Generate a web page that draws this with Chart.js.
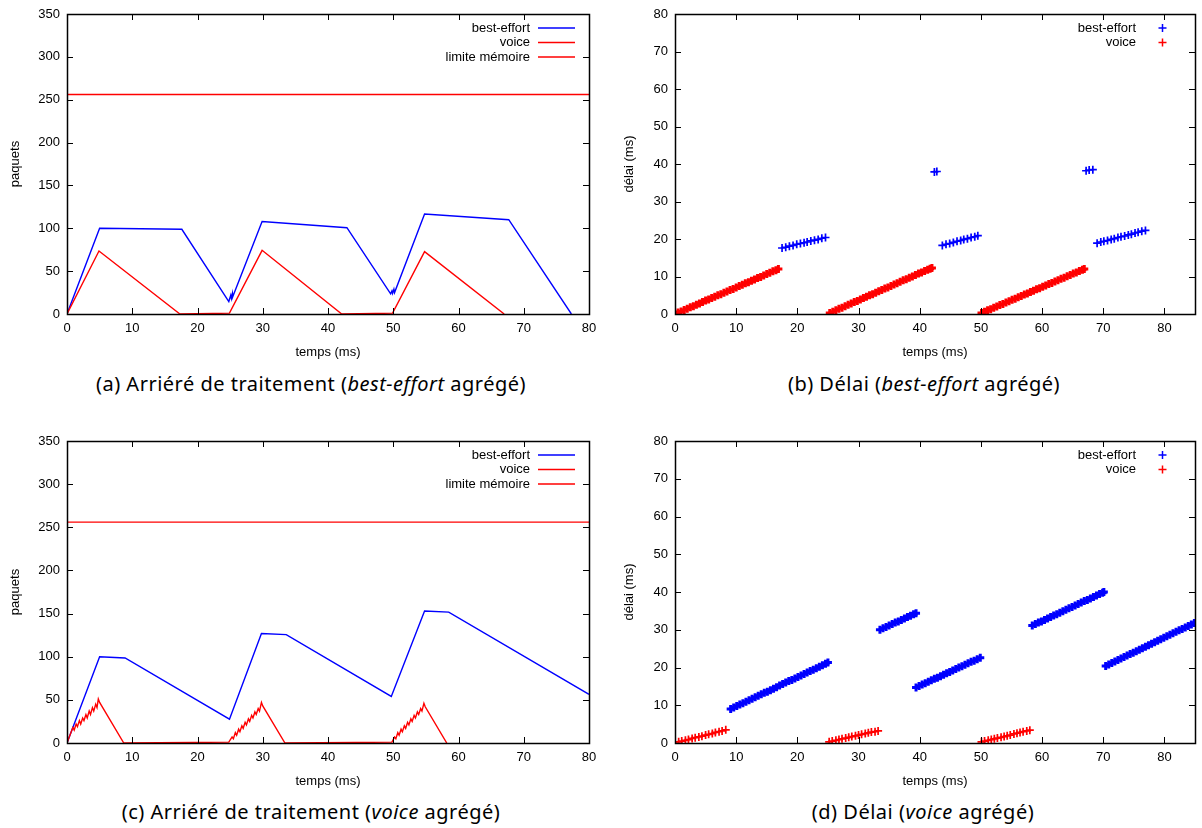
<!DOCTYPE html>
<html>
<head>
<meta charset="utf-8">
<script src="https://cdn.jsdelivr.net/npm/chart.js@4.4.0/dist/chart.umd.min.js"></script>
<style>
    body { margin: 0; background: #fff; width: 1202px; height: 828px; position: relative; overflow: hidden; }
    canvas { position: absolute; }
    .cap { position: absolute; width: 600px; text-align: center; font-family: "Noto Sans", sans-serif; font-size: 20px; letter-spacing: 0.5px; line-height: 24px; color: #000; }
    .cap i { font-style: italic; }
</style>
</head>
<body>
<canvas id="chartA" width="600" height="365" style="left:0;top:0"></canvas>
<canvas id="chartB" width="602" height="365" style="left:600px;top:0"></canvas>
<canvas id="chartC" width="600" height="367" style="left:0;top:427px"></canvas>
<canvas id="chartD" width="602" height="367" style="left:600px;top:427px"></canvas>

<div class="cap" style="left:11px;top:372px">(a) Arriéré de traitement (<i>best-effort</i> agrégé)</div>
<div class="cap" style="left:624px;top:372px">(b) Délai (<i>best-effort</i> agrégé)</div>
<div class="cap" style="left:11px;top:800px">(c) Arriéré de traitement (<i>voice</i> agrégé)</div>
<div class="cap" style="left:623px;top:800px">(d) Délai (<i>voice</i> agrégé)</div>

<script>
// ---- (a) backlog, best-effort aggregated ----
const aBestEffortTime  = [0, 5.0, 17.6, 24.8, 25.1, 25.2, 25.35, 25.4, 29.9, 42.9, 49.6, 49.8, 49.9, 50.1, 50.2, 54.8, 67.7, 77.3];
const aBestEffortQueue = [0, 100, 98.8, 14.5, 22, 18, 24, 20, 108, 100.7, 23.5, 27, 24, 29, 25, 116.7, 110, 0];
const aVoiceTime  = [0, 4.9, 17.3, 24.9, 29.9, 42.1, 49.9, 54.8, 67.0];
const aVoiceQueue = [0, 73.5, 0, 1, 74.3, 0, 1, 72.7, 0];

// memory limit (both backlog charts)
const limitTime  = [0, 80];
const limitValue = [256, 256];

// ---- (b) delay, best-effort aggregated ----
const bBestEffortTime  = [17.5, 18.1, 18.7, 19.3, 19.9, 20.5, 21.1, 21.6, 22.2, 22.8, 23.4, 24.0, 24.6,
                          42.4, 42.8,
                          43.7, 44.3, 44.9, 45.5, 46.1, 46.7, 47.2, 47.8, 48.4, 49.0, 49.5,
                          67.2, 67.7, 68.3,
                          69.0, 69.6, 70.1, 70.7, 71.3, 71.8, 72.4, 72.9, 73.5, 74.1, 74.6, 75.2, 75.7, 76.3, 76.9];
const bBestEffortDelay = [17.6, 17.8, 18.1, 18.3, 18.6, 18.8, 19.0, 19.2, 19.5, 19.7, 19.9, 20.2, 20.4,
                          37.9, 38.0,
                          18.3, 18.6, 18.8, 19.1, 19.4, 19.6, 19.9, 20.1, 20.4, 20.6, 20.9,
                          38.2, 38.4, 38.5,
                          18.9, 19.2, 19.4, 19.6, 19.9, 20.1, 20.4, 20.6, 20.8, 21.1, 21.3, 21.6, 21.8, 22.1, 22.3];
const bVoiceTime  = [0, 0.5, 1, 1.5, 2, 2.5, 3, 3.5, 4, 4.5, 5, 5.5, 6, 6.5, 7, 7.5, 8, 8.5, 9, 9.5, 10, 10.5, 11, 11.5, 12, 12.5, 13, 13.5, 14, 14.5, 15, 15.5, 16, 16.5, 16.9,
                     25.3, 25.8, 26.3, 26.8, 27.3, 27.8, 28.3, 28.8, 29.3, 29.8, 30.3, 30.8, 31.3, 31.8, 32.3, 32.8, 33.3, 33.8, 34.3, 34.8, 35.3, 35.8, 36.3, 36.8, 37.3, 37.8, 38.3, 38.8, 39.3, 39.8, 40.3, 40.8, 41.3, 41.7, 42.0,
                     50.1, 50.6, 51.1, 51.6, 52.1, 52.6, 53.1, 53.6, 54.1, 54.6, 55.1, 55.6, 56.1, 56.6, 57.1, 57.6, 58.1, 58.6, 59.1, 59.6, 60.1, 60.6, 61.1, 61.6, 62.1, 62.6, 63.1, 63.6, 64.1, 64.6, 65.1, 65.6, 66.1, 66.6, 66.9];
const bVoiceDelay = [0, 0.4, 0.7, 1.1, 1.4, 1.8, 2.1, 2.5, 2.8, 3.2, 3.6, 3.9, 4.3, 4.6, 5.0, 5.3, 5.7, 6.0, 6.4, 6.7, 7.1, 7.5, 7.8, 8.2, 8.5, 8.9, 9.2, 9.6, 9.9, 10.3, 10.7, 11.0, 11.4, 11.7, 12.0,
                     0.3, 0.6, 1.0, 1.4, 1.7, 2.1, 2.5, 2.8, 3.2, 3.5, 3.9, 4.3, 4.6, 5.0, 5.3, 5.7, 6.1, 6.4, 6.8, 7.1, 7.5, 7.9, 8.2, 8.6, 9.0, 9.3, 9.7, 10.0, 10.4, 10.8, 11.1, 11.5, 11.8, 12.1, 12.3,
                     0.3, 0.6, 1.0, 1.3, 1.7, 2.0, 2.4, 2.7, 3.1, 3.4, 3.8, 4.1, 4.5, 4.8, 5.2, 5.5, 5.9, 6.2, 6.6, 6.9, 7.3, 7.6, 8.0, 8.3, 8.7, 9.0, 9.4, 9.7, 10.1, 10.4, 10.8, 11.1, 11.5, 11.8, 12.0];

// ---- (c) backlog, voice aggregated ----
const cBestEffortTime  = [0, 5.0, 8.9, 24.9, 29.8, 33.6, 49.7, 54.8, 58.5, 80];
const cBestEffortQueue = [0, 100, 98.5, 27.6, 126.8, 125.6, 54, 152.9, 151.7, 56.4];
const cVoiceTime  = [0, 0.9, 1.1, 1.4, 1.6, 1.9, 2.1, 2.4, 2.6, 2.9, 3.1, 3.4, 3.6, 3.9, 4.1, 4.4, 4.6, 4.8, 5.0, 8.7,
                     24.8, 25.3, 25.5, 25.8, 26.0, 26.3, 26.5, 26.8, 27.0, 27.3, 27.5, 27.8, 28.0, 28.3, 28.5, 28.8, 29.0, 29.3, 29.5, 29.8, 30.0, 33.4,
                     49.8, 50.2, 50.4, 50.7, 50.9, 51.2, 51.4, 51.7, 51.9, 52.2, 52.4, 52.7, 52.9, 53.2, 53.4, 53.7, 53.9, 54.2, 54.4, 54.7, 54.9, 58.2];
const cVoiceQueue = [0, 18, 15, 22, 19, 26, 22, 29, 26, 33, 29, 37, 33, 41, 37, 45, 41, 51, 47, 0,
                     1, 7, 5, 12, 9, 16, 13, 20, 17, 24, 21, 28, 25, 32, 29, 36, 33, 40, 37, 47, 43, 0,
                     1, 7, 5, 12, 9, 16, 13, 20, 17, 24, 21, 28, 25, 32, 29, 36, 33, 40, 37, 46, 42, 0];

// ---- (d) delay, voice aggregated ----
const dBestEffortTime  = [9.1, 9.6, 10.1, 10.6, 11.1, 11.6, 12.1, 12.6, 13.1, 13.6, 14.1, 14.6, 15.1, 15.6, 16.1, 16.6, 17.1, 17.6, 18.1, 18.6, 19.1, 19.6, 20.1, 20.6, 21.1, 21.6, 22.1, 22.6, 23.1, 23.6, 24.1, 24.6, 25.0,
                          33.5, 34.0, 34.5, 35.0, 35.5, 36.0, 36.5, 37.0, 37.5, 38.0, 38.5, 39.0, 39.4,
                          39.4, 39.9, 40.4, 40.9, 41.4, 41.9, 42.4, 42.9, 43.4, 43.9, 44.4, 44.9, 45.4, 45.9, 46.4, 46.9, 47.4, 47.9, 48.4, 48.9, 49.4, 49.9,
                          58.4, 58.9, 59.4, 59.9, 60.4, 60.9, 61.4, 61.9, 62.4, 62.9, 63.4, 63.9, 64.4, 64.9, 65.4, 65.9, 66.4, 66.9, 67.4, 67.9, 68.4, 68.9, 69.4, 69.9, 70.1,
                          70.4, 70.9, 71.4, 71.9, 72.4, 72.9, 73.4, 73.9, 74.4, 74.9, 75.4, 75.9, 76.4, 76.9, 77.4, 77.9, 78.4, 78.9, 79.4, 79.9, 80.4, 80.9, 81.4, 81.9, 82.4, 82.9, 83.4, 83.9, 84.4, 84.9];
const dBestEffortDelay = [9.0, 9.4, 9.8, 10.2, 10.5, 10.9, 11.3, 11.7, 12.1, 12.5, 12.9, 13.3, 13.6, 14.0, 14.4, 14.8, 15.2, 15.6, 16.0, 16.4, 16.7, 17.1, 17.5, 17.9, 18.3, 18.7, 19.1, 19.4, 19.8, 20.2, 20.6, 21.0, 21.3,
                          30.0, 30.4, 30.7, 31.1, 31.5, 31.9, 32.2, 32.6, 33.0, 33.4, 33.7, 34.1, 34.4,
                          14.7, 15.1, 15.5, 15.8, 16.2, 16.6, 17.0, 17.3, 17.7, 18.1, 18.5, 18.8, 19.2, 19.6, 20.0, 20.3, 20.7, 21.1, 21.5, 21.8, 22.2, 22.6,
                          31.1, 31.5, 31.9, 32.2, 32.6, 33.0, 33.4, 33.8, 34.1, 34.5, 34.9, 35.3, 35.7, 36.0, 36.4, 36.8, 37.2, 37.6, 37.9, 38.3, 38.7, 39.1, 39.5, 39.8, 40.0,
                          20.4, 20.8, 21.2, 21.6, 22.0, 22.4, 22.8, 23.2, 23.6, 23.9, 24.3, 24.7, 25.1, 25.5, 25.9, 26.3, 26.7, 27.1, 27.5, 27.9, 28.3, 28.7, 29.1, 29.5, 29.9, 30.2, 30.6, 31.0, 31.4, 31.8];
const dVoiceTime  = [0, 0.6, 1.1, 1.7, 2.2, 2.8, 3.3, 3.9, 4.4, 5.0, 5.5, 6.1, 6.6, 7.2, 7.7, 8.3,
                     25.2, 25.7, 26.3, 26.8, 27.3, 27.9, 28.4, 28.9, 29.5, 30.0, 30.5, 31.1, 31.6, 32.1, 32.7, 33.2,
                     50.1, 50.6, 51.2, 51.7, 52.2, 52.7, 53.3, 53.8, 54.3, 54.8, 55.4, 55.9, 56.4, 56.9, 57.5, 58.0];
const dVoiceDelay = [0, 0.3, 0.5, 0.7, 0.9, 1.2, 1.4, 1.6, 1.8, 2.1, 2.3, 2.5, 2.8, 3.0, 3.2, 3.5,
                     0.3, 0.5, 0.7, 0.9, 1.1, 1.3, 1.5, 1.7, 1.9, 2.1, 2.3, 2.5, 2.7, 2.9, 3.0, 3.2,
                     0.3, 0.5, 0.7, 0.9, 1.1, 1.3, 1.5, 1.7, 1.9, 2.1, 2.4, 2.6, 2.8, 3.0, 3.2, 3.4];

const BLUE = '#0000ff';
const RED = '#ff0000';

Chart.defaults.font.family = '"Liberation Sans", Arial, sans-serif';
Chart.defaults.font.size = 13;
Chart.defaults.color = '#000';

function zip(xs, ys) {
    return xs.map((x, i) => ({ x: x, y: ys[i] }));
}

function lineSet(label, xs, ys, color, order) {
    return { label: label, data: zip(xs, ys), showLine: true, borderColor: color, backgroundColor: color,
             borderWidth: 1.4, pointRadius: 0, order: order };
}

// dense series get a thicker stroke so the crosses merge into a band
function pointSet(label, xs, ys, color, width) {
    return { label: label, data: zip(xs, ys), showLine: false, borderColor: color, backgroundColor: color,
             pointStyle: 'cross', pointRadius: 4, borderWidth: width };
}

// gnuplot-like border with inward ticks on all four sides
const gnuFrame = {
    id: 'gnuFrame',
    afterDatasetsDraw(chart) {
        const { ctx, chartArea: a, scales: { x, y } } = chart;
        ctx.save();
        ctx.strokeStyle = '#000';
        ctx.lineWidth = 1;
        ctx.beginPath();
        x.ticks.forEach(t => {
            const px = Math.round(x.getPixelForValue(t.value)) + 0.5;
            ctx.moveTo(px, a.bottom); ctx.lineTo(px, a.bottom - 6);
            ctx.moveTo(px, a.top); ctx.lineTo(px, a.top + 6);
        });
        y.ticks.forEach(t => {
            const py = Math.round(y.getPixelForValue(t.value)) + 0.5;
            ctx.moveTo(a.left, py); ctx.lineTo(a.left + 6, py);
            ctx.moveTo(a.right, py); ctx.lineTo(a.right - 6, py);
        });
        ctx.stroke();
        ctx.lineWidth = 1.5;
        ctx.strokeRect(Math.round(a.left) + 0.5, Math.round(a.top) + 0.5,
                       Math.round(a.right - a.left), Math.round(a.bottom - a.top));
        ctx.restore();
    }
};

// key in the top right corner: label, then a sample
const gnuKey = {
    id: 'gnuKey',
    afterDraw(chart) {
        const { ctx, chartArea: a } = chart;
        ctx.save();
        ctx.font = '13px "Liberation Sans", Arial, sans-serif';
        ctx.textAlign = 'right';
        ctx.textBaseline = 'middle';
        chart.data.datasets.forEach((ds, i) => {
            const yy = a.top + 14 + i * 14.5;
            ctx.fillStyle = '#000';
            ctx.fillText(ds.label, a.right - 59, yy);
            ctx.strokeStyle = ds.borderColor;
            ctx.beginPath();
            if (ds.showLine) {
                ctx.lineWidth = ds.borderWidth;
                ctx.moveTo(a.right - 51, yy); ctx.lineTo(a.right - 14, yy);
            } else {
                ctx.lineWidth = 1.5;
                const cx = a.right - 32.5, r = ds.pointRadius;
                ctx.moveTo(cx - r, yy); ctx.lineTo(cx + r, yy);
                ctx.moveTo(cx, yy - r); ctx.lineTo(cx, yy + r);
            }
            ctx.stroke();
        });
        ctx.restore();
    }
};

function makeChart(id, o) {
    return new Chart(document.getElementById(id), {
        type: 'scatter',
        data: { datasets: o.datasets },
        options: {
            responsive: false,
            animation: false,
            events: [],
            layout: { padding: { left: 0, top: 14, right: o.padRight, bottom: 0 } },
            plugins: { legend: { display: false }, tooltip: { enabled: false } },
            scales: {
                x: {
                    type: 'linear', min: 0, max: o.xMax,
                    grid: { display: false, drawTicks: false },
                    border: { display: false },
                    ticks: { stepSize: 10, includeBounds: false, padding: 7 },
                    title: { display: true, text: 'temps (ms)', padding: { top: 0, bottom: 5 } },
                    afterFit: s => { s.height = 51; s.paddingLeft = 0; s.paddingRight = 0; }
                },
                y: {
                    type: 'linear', min: 0, max: o.yMax,
                    grid: { display: false, drawTicks: false },
                    border: { display: false },
                    ticks: { stepSize: o.yStep, padding: 7 },
                    title: { display: true, text: o.yTitle, padding: { top: o.yTitlePad, bottom: 0 } },
                    afterFit: s => { s.width = o.yWidth; s.paddingTop = 0; s.paddingBottom = 0; }
                }
            }
        },
        plugins: [gnuFrame, gnuKey]
    });
}

makeChart('chartA', {
    xMax: 80, yMax: 350, yStep: 50, yTitle: 'paquets', yTitlePad: 7.6, yWidth: 67, padRight: 11,
    datasets: [
        lineSet('best-effort', aBestEffortTime, aBestEffortQueue, BLUE, 3),
        lineSet('voice', aVoiceTime, aVoiceQueue, RED, 2),
        lineSet('limite mémoire', limitTime, limitValue, RED, 1)
    ]
});

makeChart('chartB', {
    xMax: 85, yMax: 80, yStep: 10, yTitle: 'délai (ms)', yTitlePad: 21.2, yWidth: 75, padRight: 1,
    datasets: [
        pointSet('best-effort', bBestEffortTime, bBestEffortDelay, BLUE, 1.7),
        pointSet('voice', bVoiceTime, bVoiceDelay, RED, 3)
    ]
});

makeChart('chartC', {
    xMax: 80, yMax: 350, yStep: 50, yTitle: 'paquets', yTitlePad: 7.6, yWidth: 67, padRight: 11,
    datasets: [
        lineSet('best-effort', cBestEffortTime, cBestEffortQueue, BLUE, 3),
        lineSet('voice', cVoiceTime, cVoiceQueue, RED, 2),
        lineSet('limite mémoire', limitTime, limitValue, RED, 1)
    ]
});

makeChart('chartD', {
    xMax: 85, yMax: 80, yStep: 10, yTitle: 'délai (ms)', yTitlePad: 21.2, yWidth: 75, padRight: 1,
    datasets: [
        pointSet('best-effort', dBestEffortTime, dBestEffortDelay, BLUE, 3),
        pointSet('voice', dVoiceTime, dVoiceDelay, RED, 1.7)
    ]
});
</script>
</body>
</html>
